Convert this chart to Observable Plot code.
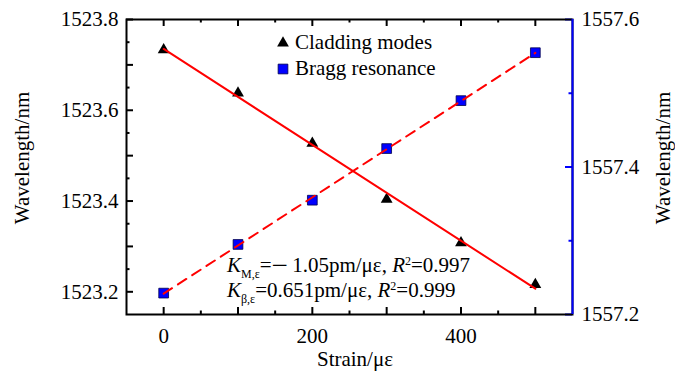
<!DOCTYPE html>
<html>
<head>
<meta charset="utf-8">
<script src="https://cdn.jsdelivr.net/npm/d3@7"></script>
<script src="https://cdn.jsdelivr.net/npm/@observablehq/plot@0.6"></script>
<style>
  html, body { margin: 0; padding: 0; background: white; }
  svg { display: block; }
</style>
</head>
<body>
<div id="chart"></div>
<script>
// ---- data ----
const strain = [0, 100, 200, 300, 400, 500];
const cladding = [1523.733, 1523.638, 1523.527, 1523.404, 1523.308, 1523.216];
const bragg = [1557.229, 1557.295, 1557.355, 1557.425, 1557.490, 1557.555];

const xLabelTicks = [0, 200, 400];
const xMajorTicks = [0, 100, 200, 300, 400, 500];
const xMinorTicks = [50, 150, 250, 350, 450];
const leftLabelTicks = [1523.2, 1523.4, 1523.6, 1523.8];
const leftMajorTicks = [1523.2, 1523.3, 1523.4, 1523.5, 1523.6, 1523.7, 1523.8];
const leftMinorTicks = [1523.25, 1523.35, 1523.45, 1523.55, 1523.65, 1523.75];
const rightLabelTicks = [1557.2, 1557.4, 1557.6];
const rightMinorTicks = [1557.3, 1557.5];

const xDomain = [-50, 550];
const leftDomain = [1523.15, 1523.8];
const rightDomain = [1557.2, 1557.6];

// ---- layout ----
const W = 675, H = 374;
const mL = 126, mR = 103, mT = 19, mB = 60;
const frameW = W - mL - mR, frameH = H - mT - mB;
const FONT = '"Liberation Serif", "Times New Roman", serif';
const FS = 21;

// right axis values mapped onto the left scale
const toLeft = d3.scaleLinear().domain(rightDomain).range(leftDomain);

const cladData = strain.map((s, i) => ({strain: s, v: cladding[i]}));
const braggData = strain.map((s, i) => ({strain: s, v: toLeft(bragg[i])}));

const plot = Plot.plot({
  width: W, height: H,
  marginLeft: mL, marginRight: mR, marginTop: mT, marginBottom: mB,
  x: {domain: xDomain},
  y: {domain: leftDomain},
  style: {fontFamily: FONT, fontSize: FS + "px", background: "white", color: "black", overflow: "visible"},
  marks: [
    // tick labels
    Plot.axisX(xLabelTicks, {tickSize: 0, tickPadding: 14, fontSize: FS, label: null}),
    Plot.axisY(leftLabelTicks, {tickSize: 0, tickPadding: 8, fontSize: FS, label: null, tickFormat: d => d.toFixed(1)}),
    Plot.axisY(rightLabelTicks.map(toLeft), {anchor: "right", tickSize: 0, tickPadding: 9, fontSize: FS, label: null,
      tickFormat: d => toLeft.invert(d).toFixed(1)}),
    // inward ticks bottom/top
    Plot.ruleX(xMajorTicks, {insetTop: frameH - 7, stroke: "black", strokeWidth: 2}),
    Plot.ruleX(xMinorTicks, {insetTop: frameH - 3.5, stroke: "black", strokeWidth: 2}),
    Plot.ruleX(xMajorTicks, {insetBottom: frameH - 7, stroke: "black", strokeWidth: 2}),
    Plot.ruleX(xMinorTicks, {insetBottom: frameH - 3.5, stroke: "black", strokeWidth: 2}),
    // inward ticks left
    Plot.ruleY(leftMajorTicks, {insetRight: frameW - 7, stroke: "black", strokeWidth: 2}),
    Plot.ruleY(leftMinorTicks, {insetRight: frameW - 3.5, stroke: "black", strokeWidth: 2}),
    // inward ticks right (blue)
    Plot.ruleY(rightLabelTicks.map(toLeft), {insetLeft: frameW - 7, stroke: "blue", strokeWidth: 2}),
    Plot.ruleY(rightMinorTicks.map(toLeft), {insetLeft: frameW - 3.5, stroke: "blue", strokeWidth: 2}),
    // frame
    Plot.frame({stroke: "black", strokeWidth: 2}),
    Plot.ruleX([xDomain[1]], {stroke: "blue", strokeWidth: 2}),
    // markers
    Plot.dot(cladData, {x: "strain", y: "v", symbol: "triangle", fill: "black", r: 4.4}),
    Plot.dot(braggData, {x: "strain", y: "v", symbol: "square", fill: "#0000ff", stroke: "#00004d", strokeWidth: 0.8, r: 5.5}),
    // fits
    Plot.linearRegressionY(cladData, {x: "strain", y: "v", ci: 0, stroke: "#ff0000", strokeWidth: 2}),
    Plot.linearRegressionY(braggData, {x: "strain", y: "v", ci: 0, stroke: "#ff0000", strokeWidth: 2, strokeDasharray: "10,7"})
  ]
});

document.getElementById("chart").appendChild(plot);
const svg = d3.select(plot);

function txt(sel) {
  return sel.attr("font-family", FONT).attr("font-size", FS).attr("fill", "black");
}

// axis titles
txt(svg.append("text")).attr("transform", `translate(29,158) rotate(-90)`)
  .attr("text-anchor", "middle").text("Wavelength/nm");
txt(svg.append("text")).attr("transform", `translate(670,158) rotate(-90)`)
  .attr("text-anchor", "middle").text("Wavelength/nm");
txt(svg.append("text")).attr("x", 355).attr("y", 366)
  .attr("text-anchor", "middle").text("Strain/με");

// legend
const legendItems = [
  {label: "Cladding modes", symbol: d3.symbolTriangle, size: 60, fill: "black", stroke: "none", y: 43},
  {label: "Bragg resonance", symbol: d3.symbolSquare, size: 95, fill: "#0000ff", stroke: "#00004d", y: 69}
];
const lg = svg.append("g");
legendItems.forEach(it => {
  lg.append("path").attr("d", d3.symbol(it.symbol, it.size)())
    .attr("transform", `translate(283,${it.y})`).attr("fill", it.fill).attr("stroke", it.stroke).attr("stroke-width", 0.8);
  txt(lg.append("text")).attr("x", 295).attr("y", it.y + 6).attr("text-anchor", "start").text(it.label);
});

// annotation
function annot(y, sub, sign, rest, r2) {
  const t = txt(svg.append("text")).attr("x", 227).attr("y", y).attr("text-anchor", "start");
  t.append("tspan").attr("font-style", "italic").text("K");
  t.append("tspan").attr("font-size", 12).attr("dy", 6).text(sub);
  t.append("tspan").attr("dy", -6).text("=");
  if (sign) {
    t.append("tspan").attr("font-size", 29).attr("dy", 2.5).text(sign);
    t.append("tspan").attr("font-size", FS).attr("dy", -2.5).text(rest);
  } else {
    t.append("tspan").attr("font-size", FS).text(rest);
  }
  t.append("tspan").attr("font-style", "italic").text("R");
  t.append("tspan").attr("font-size", 12).attr("dy", -7).text("2");
  t.append("tspan").attr("dy", 7).text("=" + r2);
}
annot(272, "M,ε", "\u2212", "\u20091.05pm/με, ", "0.997");
annot(297, "β,ε", "", "0.651pm/με, ", "0.999");
</script>
</body>
</html>
